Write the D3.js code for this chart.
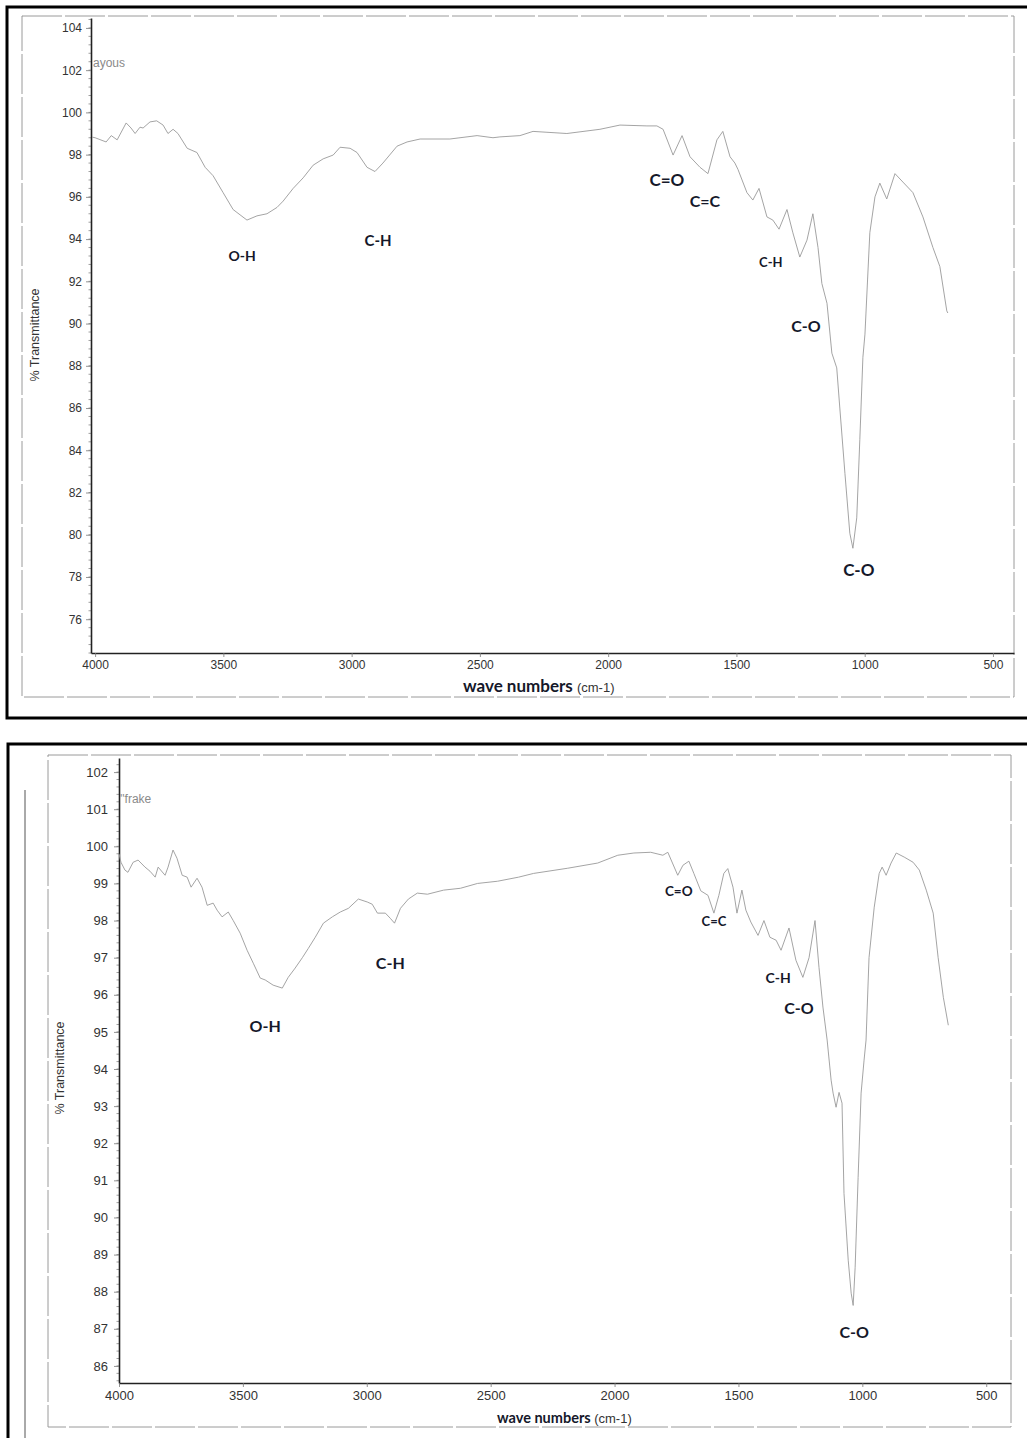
<!DOCTYPE html>
<html>
<head>
<meta charset="utf-8">
<script src="https://cdn.jsdelivr.net/npm/d3@7"></script>
<style>
  body { margin: 0; background: #fff; }
  svg { display: block; }
</style>
</head>
<body>
<script>
// ---- top spectrum (ayous) ----
const topWavenumbers = [4012, 4000, 3957, 3937, 3914, 3879, 3860, 3844, 3825, 3813, 3786, 3760, 3735, 3716, 3696, 3677,
  3641, 3603, 3571, 3540, 3501, 3462, 3408, 3369, 3330, 3291, 3267, 3228, 3189, 3150, 3111, 3072, 3045, 3006, 2979,
  2940, 2909, 2878, 2823, 2784, 2733, 2617, 2511, 2449, 2422, 2344, 2293, 2161, 2032, 1954, 1849, 1810, 1786, 1747,
  1712, 1681, 1642, 1611, 1576, 1553, 1525, 1506, 1494, 1459, 1436, 1412, 1381, 1358, 1334, 1303, 1280, 1253, 1225,
  1202, 1182, 1167, 1147, 1128, 1109, 1097, 1077, 1058, 1046, 1031, 1019, 1007, 999, 980, 960, 941, 914, 882, 851,
  812, 773, 734, 707, 680, 676];
const topTransmittance = [98.83, 98.8, 98.6, 98.9, 98.7, 99.5, 99.26, 99.0, 99.3, 99.26, 99.55, 99.6, 99.4, 99.0, 99.2, 99.0,
  98.3, 98.1, 97.4, 97.0, 96.2, 95.4, 94.9, 95.1, 95.2, 95.5, 95.8, 96.4, 96.9, 97.5, 97.8, 97.98, 98.35, 98.3, 98.1,
  97.4, 97.2, 97.6, 98.4, 98.6, 98.74, 98.74, 98.9, 98.8, 98.84, 98.9, 99.1, 99.0, 99.2, 99.4, 99.36, 99.36, 99.2, 97.98,
  98.9, 97.9, 97.4, 97.1, 98.7, 99.1, 97.9, 97.6, 97.3, 96.2, 95.85, 96.4, 95.05, 94.9, 94.47, 95.4, 94.3, 93.15, 93.95,
  95.2, 93.6, 91.9, 90.96, 88.6, 87.9, 86.0, 82.9, 80.07, 79.36, 80.8, 84.5, 88.4, 89.5, 94.3, 96.0, 96.65, 95.9, 97.1, 96.7,
  96.2, 95.05, 93.6, 92.7, 90.6, 90.5];
const topYTicks = [76, 78, 80, 82, 84, 86, 88, 90, 92, 94, 96, 98, 100, 102, 104];
const topBandLabels = ["O-H", "C-H", "C=O", "C=C", "C-H", "C-O", "C-O"];
const topBandWn = [3427, 2897, 1771, 1623, 1366, 1229, 1023];
const topBandT = [93.24, 93.95, 96.8, 95.85, 92.9, 89.9, 78.36];

// ---- bottom spectrum (frake) ----
const bottomWavenumbers = [4000, 3992, 3976, 3964, 3943, 3923, 3895, 3875, 3854, 3842, 3814, 3802, 3782, 3766, 3745, 3725,
  3709, 3685, 3665, 3644, 3620, 3604, 3584, 3559, 3539, 3511, 3483, 3458, 3430, 3410, 3378, 3341, 3317, 3289, 3260,
  3236, 3208, 3175, 3139, 3107, 3074, 3034, 2998, 2978, 2957, 2925, 2905, 2888, 2864, 2832, 2796, 2755, 2690, 2622,
  2553, 2472, 2387, 2327, 2189, 2068, 1987, 1922, 1854, 1805, 1785, 1745, 1724, 1700, 1680, 1652, 1623, 1599, 1579,
  1559, 1543, 1522, 1506, 1486, 1470, 1450, 1421, 1397, 1373, 1348, 1328, 1296, 1268, 1240, 1215, 1191, 1175, 1159,
  1142, 1126, 1118, 1106, 1094, 1082, 1074, 1057, 1045, 1037, 1029, 1017, 1005, 993, 985, 973, 952, 932, 920, 904,
  884, 863, 831, 795, 770, 742, 714, 694, 673, 653];
const bottomTransmittance = [99.8, 99.57, 99.36, 99.3, 99.57, 99.63, 99.44, 99.33, 99.17, 99.44, 99.22, 99.44, 99.9, 99.68, 99.22, 99.17,
  98.9, 99.14, 98.9, 98.41, 98.47, 98.28, 98.1, 98.23, 98.0, 97.66, 97.2, 96.85, 96.45, 96.4, 96.26, 96.18, 96.47, 96.72, 97.0,
  97.25, 97.55, 97.93, 98.1, 98.23, 98.33, 98.58, 98.5, 98.44, 98.2, 98.2, 98.06, 97.93, 98.33, 98.58, 98.74, 98.71, 98.82, 98.87,
  99.0, 99.06, 99.17, 99.27, 99.41, 99.55, 99.76, 99.82, 99.84, 99.76, 99.84, 99.22, 99.49, 99.6, 99.27, 98.8, 98.68, 98.2, 98.68,
  99.27, 99.4, 98.9, 98.2, 98.82, 98.28, 97.96, 97.6, 98.0, 97.55, 97.47, 97.2, 97.8, 96.93, 96.47, 97.0, 98.0, 96.74, 95.67,
  94.78, 93.7, 93.35, 92.97, 93.37, 93.08, 90.65, 88.85, 87.96, 87.63, 88.66, 91.08, 93.35, 94.24, 94.78, 97.0, 98.36, 99.27, 99.44, 99.22,
  99.55, 99.82, 99.71, 99.57, 99.36, 98.82, 98.2, 97.0, 95.93, 95.18];
const bottomYTicks = [86, 87, 88, 89, 90, 91, 92, 93, 94, 95, 96, 97, 98, 99, 100, 101, 102];
const bottomBandLabels = ["O-H", "C-H", "C=O", "C=C", "C-H", "C-O", "C-O"];
const bottomBandWn = [3410, 2905, 1741, 1599, 1340, 1256, 1033];
const bottomBandT = [95.18, 96.88, 98.79, 97.98, 96.47, 95.67, 86.93];

const xTicks = [4000, 3500, 3000, 2500, 2000, 1500, 1000, 500];

const tickFont = '"Liberation Sans", Arial, sans-serif';
const bandFont = 'Lato, "Open Sans", sans-serif';

const svg = d3.select("body").append("svg")
  .attr("width", 1027)
  .attr("height", 1438);

svg.append("rect").attr("width", 1027).attr("height", 1438).attr("fill", "#fff");

function drawPanel(p) {
  const g = svg.append("g");

  // scanned page frames
  g.append("rect")
    .attr("x", p.outer[0]).attr("y", p.outer[1])
    .attr("width", p.outer[2] - p.outer[0]).attr("height", p.outer[3] - p.outer[1])
    .attr("fill", "none").attr("stroke", "#000").attr("stroke-width", 3);
  g.append("rect")
    .attr("x", p.inner[0]).attr("y", p.inner[1])
    .attr("width", p.inner[2] - p.inner[0]).attr("height", p.inner[3] - p.inner[1])
    .attr("fill", "none").attr("stroke", "#9a9a9a").attr("stroke-width", 1)
    .attr("stroke-dasharray", "40,3");

  const x = d3.scaleLinear().domain(p.xDomain).range([p.left, p.right]);
  const y = d3.scaleLinear().domain(p.yDomain).range([p.bottom, p.top]);

  // minor y ticks
  const minor = d3.range(Math.ceil(p.yDomain[0] / p.minorStep) * p.minorStep, p.yDomain[1], p.minorStep);
  g.append("g").selectAll("line").data(minor).join("line")
    .attr("x1", p.left - 2.5).attr("x2", p.left)
    .attr("y1", d => y(d)).attr("y2", d => y(d))
    .attr("stroke", "#888").attr("stroke-width", 0.8);

  const yAxis = g.append("g")
    .attr("transform", `translate(${p.left},0)`)
    .call(d3.axisLeft(y).tickValues(p.yTicks).tickFormat(d3.format("d"))
      .tickSize(5).tickPadding(p.yPad).tickSizeOuter(0));
  const xAxis = g.append("g")
    .attr("transform", `translate(0,${p.bottom})`)
    .call(d3.axisBottom(x).tickValues(xTicks).tickFormat(d3.format("d"))
      .tickSize(4).tickPadding(p.xPad).tickSizeOuter(0));

  [yAxis, xAxis].forEach(a => {
    a.select(".domain").attr("stroke", "#222").attr("stroke-width", 1.6);
    a.selectAll(".tick line").attr("stroke", "#777").attr("stroke-width", 0.8);
    a.selectAll(".tick text").attr("font-family", tickFont).attr("font-size", p.tickSize).attr("fill", "#333");
  });

  // spectrum
  const pts = p.wn.map((w, i) => [w, p.t[i]]);
  g.append("path")
    .datum(pts)
    .attr("fill", "none")
    .attr("stroke", "#9a9a9a")
    .attr("stroke-width", 0.9)
    .attr("d", d3.line().x(d => x(d[0])).y(d => y(d[1])));

  // sample name
  g.append("text")
    .attr("x", p.sample[1]).attr("y", p.sample[2])
    .attr("font-family", tickFont).attr("font-size", 12).attr("fill", "#8a8a8a")
    .text(p.sample[0]);

  // band labels
  g.append("g").selectAll("text").data(p.bands).join("text")
    .attr("x", (d, i) => x(p.bandWn[i]))
    .attr("y", (d, i) => y(p.bandT[i]))
    .attr("text-anchor", "middle")
    .attr("dominant-baseline", "central")
    .attr("font-family", bandFont).attr("font-weight", 700)
    .attr("font-size", (d, i) => p.bandSizes[i])
    .attr("fill", "#15182a")
    .text(d => d);

  // axis titles
  g.append("text")
    .attr("transform", `translate(${p.yTitle[0]},${p.yTitle[1]}) rotate(-90)`)
    .attr("text-anchor", "middle").attr("dominant-baseline", "central")
    .attr("font-family", tickFont).attr("font-size", 12.5).attr("fill", "#333")
    .text("% Transmittance");
  const xt = g.append("text")
    .attr("x", p.xTitle[0]).attr("y", p.xTitle[1]);
  xt.append("tspan")
    .attr("font-family", bandFont).attr("font-weight", 700).attr("font-size", p.xTitleSize)
    .attr("fill", "#15182a").text("wave numbers ");
  xt.append("tspan")
    .attr("font-family", tickFont).attr("font-size", 13).attr("fill", "#333")
    .text("(cm-1)");
}

drawPanel({
  outer: [7, 7, 1032, 718], inner: [22, 16, 1014, 697],
  left: 91, right: 1014, top: 18, bottom: 653,
  xDomain: [4016, 418], yDomain: [74.4, 104.47],
  yTicks: topYTicks, minorStep: 0.4, tickSize: 12, yPad: 4, xPad: 3,
  wn: topWavenumbers, t: topTransmittance,
  bands: topBandLabels, bandWn: topBandWn, bandT: topBandT,
  bandSizes: [14, 15, 17, 16, 13, 16, 17],
  sample: ["ayous", 93, 67],
  yTitle: [35, 335], xTitle: [463, 692], xTitleSize: 17
});

drawPanel({
  outer: [8, 744, 1032, 1445], inner: [48, 755, 1011, 1427],
  left: 119, right: 1011, top: 758, bottom: 1383,
  xDomain: [4000, 400], yDomain: [85.54, 102.38],
  yTicks: bottomYTicks, minorStep: 0.2, tickSize: 13, yPad: 6, xPad: 4,
  wn: bottomWavenumbers, t: bottomTransmittance,
  bands: bottomBandLabels, bandWn: bottomBandWn, bandT: bottomBandT,
  bandSizes: [16, 16, 13.5, 13, 14, 16, 16],
  sample: ["''frake", 120, 803],
  yTitle: [60, 1068], xTitle: [497, 1423], xTitleSize: 14.5
});

// stray scan line along the left edge of the lower sheet
svg.append("line")
  .attr("x1", 25).attr("x2", 25).attr("y1", 790).attr("y2", 1438)
  .attr("stroke", "#555").attr("stroke-width", 1);
</script>
</body>
</html>
